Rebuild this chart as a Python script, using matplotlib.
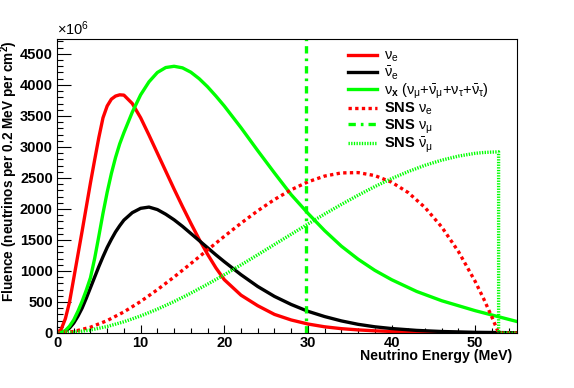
import matplotlib
matplotlib.use('Agg')
import matplotlib.pyplot as plt
from matplotlib.ticker import MultipleLocator

# Supernova fluences (units of 1e6 per 0.2 MeV per cm^2)
E_sn = [0, 0.5, 1, 1.5, 2, 2.5, 3, 3.5, 4, 4.5, 5, 5.5, 6, 6.5, 7, 7.5, 8, 9, 10,
        11, 12, 13, 14, 15, 16, 17, 18, 19, 20, 22, 24, 26, 28, 30, 32, 34, 36,
        38, 40, 43, 46, 50, 55]
nue = [0, 60, 230, 500, 880, 1260, 1640, 2030, 2420, 2790, 3150, 3470, 3660,
       3770, 3820, 3840, 3835, 3700, 3470, 3190, 2900, 2610, 2320, 2040, 1770,
       1510, 1270, 1050, 860, 610, 440, 300, 210, 145, 100, 70, 50, 35, 25, 14,
       8, 4, 1]
nuebar = [0, 5, 30, 80, 160, 270, 400, 560, 730, 900, 1070, 1230, 1380,
          1510, 1630, 1730, 1820, 1940, 2010, 2030, 1990, 1915, 1825, 1720,
          1605, 1490, 1375, 1260, 1150, 940, 750, 590, 460, 350, 265, 195, 140,
          100, 72, 42, 24, 11, 4]
nux = [0, 6, 40, 110, 210, 350, 510, 690, 890, 1200, 1560, 1930, 2270, 2570,
       2830, 3050, 3230, 3560, 3840, 4050, 4200, 4280, 4300, 4275, 4205, 4100,
       3970, 3820, 3660, 3310, 2940, 2580, 2230, 1930, 1650, 1400, 1190, 1010,
       860, 670, 520, 360, 185]

# SNS (stopped pion) spectra
E_sns = [0, 2, 4, 6, 8, 10, 12, 14, 16, 18, 20, 22, 24, 26, 28, 30, 32, 34, 36,
         38, 40, 42, 44, 46, 48, 50, 51, 52, 52.8, 52.8, 55]
sns_nue = [0, 24, 93, 200, 340, 508, 698, 903, 1119, 1339, 1558, 1770, 1970,
           2152, 2309, 2437, 2530, 2581, 2586, 2538, 2432, 2263, 2023, 1709,
           1313, 831, 556, 257, 0, 0, 0]
sns_numubar = [0, 12, 48, 105, 181, 275, 384, 507, 642, 787, 939, 1098, 1261,
               1427, 1592, 1757, 1918, 2073, 2221, 2361, 2489, 2603, 2704, 2787,
               2852, 2897, 2910, 2917, 2920, 0, 0]
E_numu = [29.8, 29.8]
sns_numu = [0, 20000]

plt.rcParams['font.family'] = ['Liberation Sans', 'DejaVu Sans']
plt.rcParams['mathtext.fontset'] = 'custom'
plt.rcParams['mathtext.rm'] = 'Liberation Sans'
plt.rcParams['mathtext.it'] = 'Liberation Sans'
plt.rcParams['mathtext.bf'] = 'Liberation Sans:bold'

fig = plt.figure(figsize=(5.74, 3.88), dpi=100)
ax = fig.add_axes([57/574, 55/388, 460/574, 294/388])

lw = 2.4
ax.plot(E_sn, nue, color='#ff0000', lw=lw, label=r'$\nu_e$')
ax.plot(E_sn, nuebar, color='black', lw=lw, label=r'$\bar{\nu}_e$')
ax.plot(E_sn, nux, color='#00ff00', lw=lw,
        label=r'$\nu_{\mathbf{x}}\ (\nu_\mu$+$\bar{\nu}_\mu$+$\nu_\tau$+$\bar{\nu}_\tau)$')
ax.plot(E_sns, sns_nue, color='#ff0000', lw=lw, ls=(0, (1, 1)), label=r'SNS $\nu_e$')
ax.plot(E_numu, sns_numu, color='#00ff00', lw=lw, ls=(0, (2.2, 1.5, 0.8, 1.5)),
        label=r'SNS $\nu_\mu$')
ax.plot(E_sns, sns_numubar, color='#00ff00', lw=lw, ls=(0, (0.4, 0.4)),
        label=r'SNS $\bar{\nu}_\mu$')

ax.set_xlim(0, 55)
ax.set_ylim(0, 4740)
ax.xaxis.set_major_locator(MultipleLocator(10))
ax.xaxis.set_minor_locator(MultipleLocator(2))
ax.yaxis.set_major_locator(MultipleLocator(500))
ax.yaxis.set_minor_locator(MultipleLocator(100))
ax.tick_params(axis='both', which='both', direction='in', top=False, right=False,
               labelsize=10.5, width=0.8)
ax.tick_params(axis='y', which='major', length=10, pad=3)
ax.tick_params(axis='y', which='minor', length=4.5)
ax.tick_params(axis='x', which='major', length=6, pad=2)
ax.tick_params(axis='x', which='minor', length=3.5)
for lab in ax.get_xticklabels() + ax.get_yticklabels():
    lab.set_fontweight('bold')
for s in ax.spines.values():
    s.set_linewidth(0.8)

ax.set_xlabel('Neutrino Energy (MeV)', fontsize=10.2, fontweight='bold')
ax.xaxis.set_label_coords(0.99, -0.055)
ax.xaxis.label.set_horizontalalignment('right')
ax.set_ylabel(r'Fluence (neutrinos per 0.2 MeV per cm$^\mathbf{2}$)', fontsize=9.8,
              fontweight='bold')
ax.yaxis.set_label_coords(-0.08, 0.55)
ax.text(0.0, 1.005, r'$\times$10$^6$', transform=ax.transAxes, fontsize=10.5,
        ha='left', va='bottom')

leg = ax.legend(loc='upper left', bbox_to_anchor=(348/574, 1 - 49/388),
                bbox_transform=fig.transFigure, frameon=False, fontsize=10.5,
                handlelength=2.0, handletextpad=0.5, labelspacing=0.0,
                borderpad=0, borderaxespad=0)
for t in leg.get_texts():
    if t.get_text().startswith('SNS'):
        t.set_fontweight('bold')

fig.savefig('out.png', dpi=100)
